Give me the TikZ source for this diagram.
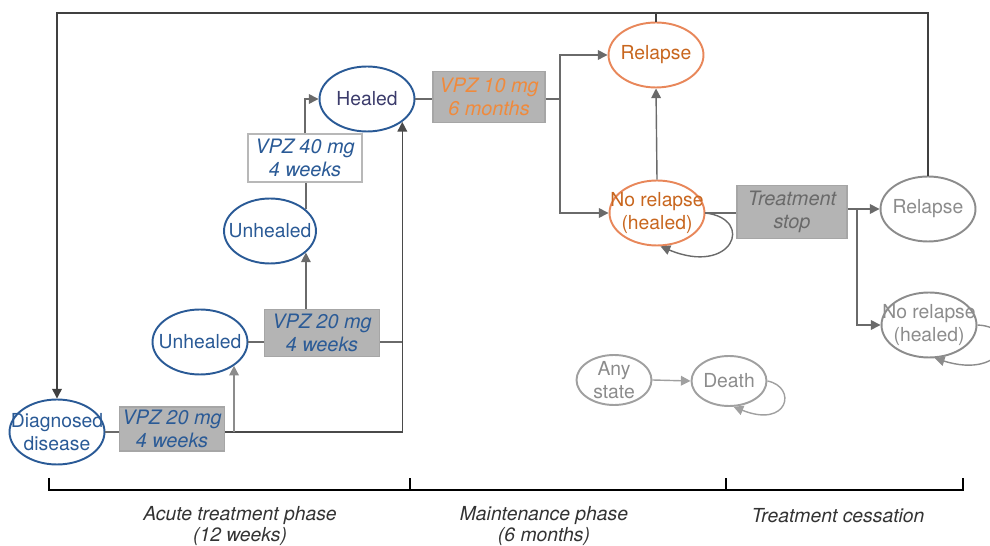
\documentclass[tikz,border=0pt]{standalone}
\usepackage{fontspec}
\setmainfont{TeX Gyre Heros}
\usetikzlibrary{shapes.geometric, arrows.meta, positioning, calc}
\definecolor{vpzblue}{HTML}{2A5A96}
\definecolor{healnavy}{HTML}{3B3B6B}
\definecolor{relorange}{HTML}{E8875A}
\definecolor{reltext}{HTML}{C8661E}
\definecolor{doseorange}{HTML}{F08A3C}
\definecolor{stopgray}{HTML}{8C8C8C}
\definecolor{anygray}{HTML}{A0A0A0}
\definecolor{boxfill}{HTML}{B4B4B4}
\definecolor{boxline}{HTML}{A6A6A6}
\definecolor{linegray}{HTML}{6A6A6A}

\tikzset{
	state/.style={ellipse, draw=vpzblue, line width=1.1pt, text=vpzblue, align=center,
		minimum width=1.9cm, minimum height=1.3cm, inner xsep=-12pt, inner ysep=-8pt},
	orange state/.style={state, draw=relorange, text=reltext},
	stop state/.style={state, draw=stopgray, text=stopgray},
	any state/.style={state, draw=anygray, text=stopgray, minimum width=1.5cm, minimum height=1cm},
	dose/.style={rectangle, fill=boxfill, draw=boxline, line width=0.8pt, text=vpzblue,
		font=\fontsize{11.3}{13}\selectfont\itshape, align=center, inner sep=0pt},
	link/.style={draw=linegray, line width=0.8pt},
	tip/.style={link, -{Triangle[length=5.5pt,width=5.5pt]}},
	phase/.style={align=center, text=black!80, font=\fontsize{11}{12.4}\selectfont\itshape}
}

\begin{document}
\begin{tikzpicture}[x=0.02cm, y=-0.02cm, font=\fontsize{11}{13}\selectfont]
						\useasboundingbox (0,0) rectangle (990,546);
						% acute treatment phase
						\node[state] (d0) at (57,432) {Diagnosed\\disease};
						\node[dose, minimum width=2.1cm, minimum height=0.88cm] (b1) at (172,429) {VPZ 20 mg\\4 weeks};
						\node[state] (u1) at (200,342) {Unhealed};
						\node[dose, minimum width=2.3cm, minimum height=0.94cm] (b2) at (322,333) {VPZ 20 mg\\4 weeks};
						\node[state, minimum width=1.84cm] (u2) at (270,231) {Unhealed};
						\node[dose, fill=white, draw=boxline!80, minimum width=2.28cm, minimum height=0.96cm] (b3) at (305,158) {VPZ 40 mg\\4 weeks};
						\node[state, text=healnavy] (h1) at (367,99) {Healed};
						% maintenance phase
						\node[dose, text=doseorange, minimum width=2.24cm, minimum height=1.02cm] (b4) at (489,97) {VPZ 10 mg\\6 months};
						\node[orange state] (r1) at (656,55) {Relapse};
						\node[orange state] (n1) at (657,213) {No relapse\\(healed)};
						% treatment cessation
						\node[dose, text=linegray, minimum width=2.2cm, minimum height=1.06cm] (ts) at (792,212) {Treatment\\stop};
						\node[stop state] (r2) at (928,209) {Relapse};
						\node[stop state] (n2) at (929,325) {No relapse\\(healed)};
						\node[any state] (as) at (614,380) {Any\\state};
						\node[any state] (dt) at (729,381) {Death};
						\coordinate (tl) at (57,13);
						\coordinate (br) at (560,99);
						\coordinate (br2) at (857,210);

						\draw[link] (d0.east) -- (d0.east -| b1.west);
						\draw[tip, draw=linegray!70!black] (d0.east -| b1.east) -| (h1.-33);
						\draw[tip, draw=stopgray] (d0.east -| u1.-35) -- (u1.-35);
						\draw[link] (u1.east) -- (u1.east -| b2.west);
						\draw[link] (u1.east -| b2.east) -- (u1.east -| h1.-33);
						\draw[tip] (u2.-31 |- b2.north) -- (u2.-31);
						\draw[link] (u2.31) -- (u2.31 |- b3.south);
						\draw[tip] (b3.north) |- (h1.west);
						\draw[link] (h1.east) -- (h1.east -| b4.west);
						\draw[link] (h1.east -| b4.east) -- (br);
						\draw[tip] (br) |- (r1.west);
						\draw[tip] (br) |- (n1.west);
						\draw[tip] (n1.north) -- (r1.south);
						\draw[link] (n1.east) -- (n1.east -| ts.west);
						\draw[tip] (ts.east |- r2.west) -- (r2.west);
						\draw[tip] (br2) |- (n2.west);
						\draw[tip, draw=black!75] (r2.north) |- (tl) -- (d0.north);
						\draw[link, draw=black!75] (r1.north) -- (r1.north |- tl);
						\draw[tip, draw=anygray] (as.east) -- (dt.west);
						% self loops
						\draw[tip] (n1.east) .. controls +(50,6) and +(72,30) .. (n1.-84);
						\draw[tip, draw=stopgray] (n2.east) .. controls +(45,2) and +(70,22) .. (n2.-80);
						\draw[tip, draw=anygray] (dt.east) .. controls +(30,6) and +(55,22) .. (dt.-80);

						% phases
						\draw[line width=0.9pt] (49,478) -- (49,490) -- (963,490) -- (963,478);
						\draw[line width=0.9pt] (410,490) -- (410,478) (726,490) -- (726,478);
						\node[phase] (p1) at (240,526) {Acute treatment phase\\(12 weeks)};
						\node[phase] (p2) at (544,526) {Maintenance phase\\(6 months)};
						\node[phase] (p3) at (838,516) {Treatment cessation};
					\end{tikzpicture}
\end{document}
